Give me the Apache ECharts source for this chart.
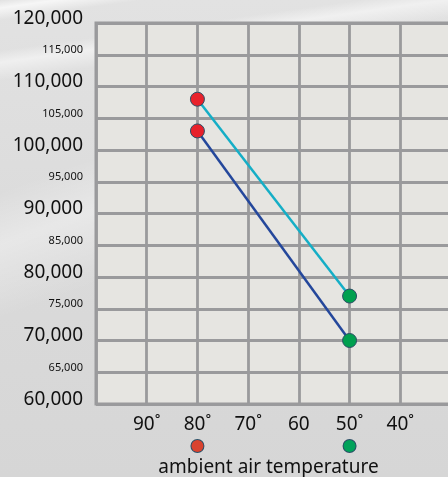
<!DOCTYPE html>
<html>
<head>
<meta charset="utf-8">
<script src="https://cdn.jsdelivr.net/npm/echarts@6/dist/echarts.min.js"></script>
<style>
html,body{margin:0;padding:0;}
body{width:448px;height:477px;overflow:hidden;
background:
 linear-gradient(172deg, rgba(255,255,255,0) 0px, rgba(255,255,255,0.7) 8px, rgba(255,255,255,0) 20px, rgba(255,255,255,0) 50px, rgba(255,255,255,0.5) 62px, rgba(255,255,255,0) 80px),
 linear-gradient(160deg, rgba(255,255,255,0) 180px, rgba(255,255,255,0.35) 230px, rgba(255,255,255,0) 300px),
 linear-gradient(180deg, #e2e2e2 0%, #dadada 55%, #d6d6d6 100%);}
#c{width:448px;height:477px;}
</style>
</head>
<body>
<div id="c"></div>
<script>
const temps = [80, 50];
const seriesUpper = [108000, 77000];
const seriesLower = [103000, 70000];
const xTickLabels = {90: '90˚', 80: '80˚', 70: '70˚', 60: '60', 50: '50˚', 40: '40˚'};
const xMarkerAt = {80: 'r', 50: 'g'};
const xName = 'ambient air temperature';

const FONT = 'Noto Sans';
const startColor = '#e8212b', endColor = '#00a04f';

function pts(vals) {
  return temps.map((t, i) => ({
    value: [t, vals[i]],
    itemStyle: {color: i === 0 ? startColor : endColor, borderColor: '#2b4f66', borderWidth: 1}
  }));
}

const chart = echarts.init(document.getElementById('c'));
chart.setOption({
  animation: false,
  backgroundColor: 'transparent',
  grid: {left: 96, top: 23, right: -3, bottom: 73, outerBoundsMode: 'none', containLabel: false,
         show: true, backgroundColor: '#e6e5e1', borderColor: '#9a9a9c', borderWidth: 3},
  xAxis: {
    type: 'value', min: 30, max: 100, interval: 10, inverse: true,
    axisLine: {show: false}, axisTick: {show: false},
    splitLine: {show: true, lineStyle: {color: '#9a9a9c', width: 2.8}},
    axisLabel: {
      margin: 10, verticalAlign: 'top',
      formatter: v => {
        const l = xTickLabels[v];
        if (l === undefined) return '';
        const m = xMarkerAt[v];
        return '{t|' + l + '}' + (m ? '\n{' + m + '|}' : '');
      },
      rich: {
        t: {fontFamily: FONT, fontSize: 19, color: '#111', lineHeight: 22},
        r: {width: 12, height: 12, lineHeight: 20, borderRadius: 6, backgroundColor: '#d9432f', borderColor: '#2b4f66', borderWidth: 1},
        g: {width: 12, height: 12, lineHeight: 20, borderRadius: 6, backgroundColor: '#00a25a', borderColor: '#2b4f66', borderWidth: 1}
      }
    },
    name: xName, nameLocation: 'middle', nameGap: 54,
    nameTextStyle: {fontFamily: FONT, fontSize: 19, color: '#111', padding: [0, 10, 0, 0]}
  },
  yAxis: {
    type: 'value', min: 60000, max: 120000, interval: 5000,
    axisLine: {show: false}, axisTick: {show: false},
    splitLine: {show: true, lineStyle: {color: '#9a9a9c', width: 2.8}},
    axisLabel: {
      margin: 13,
      formatter: v => {
        const s = v.toLocaleString('en-US');
        return v % 10000 === 0 ? '{b|' + s + '}' : '{s|' + s + '}';
      },
      rich: {
        b: {fontFamily: FONT, fontSize: 19, color: '#111', padding: [0, 0, 9, 0]},
        s: {fontFamily: FONT, fontSize: 11, color: '#111', padding: [0, 0, 9, 0]}
      }
    }
  },
  series: [
    {type: 'line', data: pts(seriesUpper), symbol: 'circle', symbolSize: 14,
     lineStyle: {color: '#15aec6', width: 2.5}, z: 3},
    {type: 'line', data: pts(seriesLower), symbol: 'circle', symbolSize: 14,
     lineStyle: {color: '#24479b', width: 2.5}, z: 3}
  ]
});
</script>
</body>
</html>
